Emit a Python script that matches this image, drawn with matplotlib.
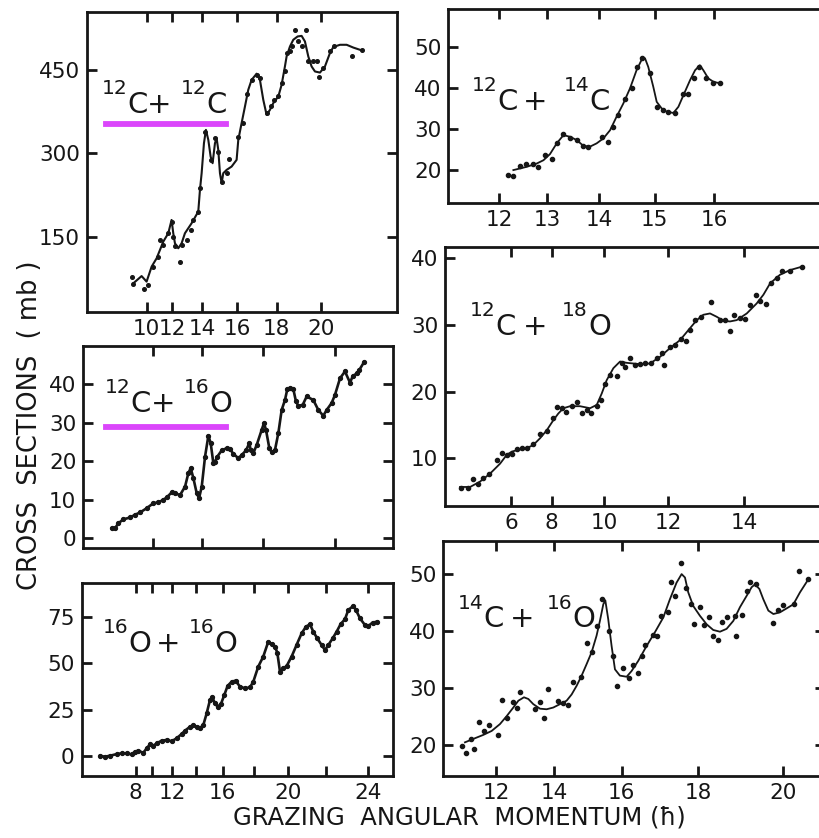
import numpy as np
import matplotlib
matplotlib.use("Agg")
import matplotlib.pyplot as plt
from matplotlib.transforms import offset_copy

# Six excitation functions, cross section vs grazing angular momentum.
# The horizontal axes are linear in l^2 (i.e. in energy), so all x values
# below are l^2; ticks are labelled with l itself.

# --- 12C + 12C (mb) ---
cc12_line_l2 = [77.0, 91.3, 99.9, 108.6, 117.2, 128.7, 137.3, 143.0, 145.9, 148.8, 154.5, 160.3, 166.0,
                177.5, 189.0, 191.9, 194.8, 198.8, 202.2, 206.3, 210.3, 213.7, 217.8, 220.6, 223.5, 226.4,
                229.3, 232.1, 237.9, 246.5, 255.1, 258.0, 263.7, 269.5, 275.2, 281.0, 289.6, 295.3, 301.1,
                306.8, 312.6, 318.3, 327.0, 332.7, 338.4, 341.3, 347.1, 352.8, 360.3, 367.2, 372.9, 378.7,
                384.4, 390.2, 398.8, 407.4, 416.0, 421.8, 433.3, 444.8, 456.3, 470.6]
cc12_line_sig = [66, 79, 69, 96, 111, 141, 156, 180, 156, 138, 129, 138, 156, 174, 195, 234, 264, 318, 342,
                 324, 294, 282, 318, 327, 306, 264, 246, 264, 270, 276, 288, 324, 354, 384, 414, 432, 443,
                 432, 396, 369, 378, 390, 402, 423, 456, 474, 492, 504, 510, 511, 501, 474, 456, 447, 445,
                 456, 480, 491, 495, 495, 490, 485]
cc12_pts_l2 = [74.1, 76.9, 95.3, 102.9, 110.3, 120.1, 123.0, 128.7, 137.3, 143.0, 145.9, 148.8, 157.4, 160.3,
               168.9, 175.8, 180.4, 189.0, 191.9, 200.5, 210.3, 217.8, 223.5, 229.3, 237.9, 242.5, 258.0,
               266.6, 272.4, 281.0, 289.6, 295.3, 306.8, 313.7, 319.5, 327.0, 332.7, 338.4, 342.4, 347.1,
               351.1, 355.7, 360.3, 367.2, 374.7, 378.7, 387.3, 393.1, 397.7, 403.4, 416.0, 423.5, 453.4, 470.6]
cc12_pts_sig = [78, 65, 55, 63, 96, 114, 144, 135, 156, 177, 150, 133, 104, 135, 144, 162, 180, 195, 237, 339,
                288, 327, 303, 249, 264, 289, 330, 354, 406, 432, 441, 435, 372, 385, 396, 403, 426, 447, 480,
                483, 492, 522, 501, 492, 522, 465, 465, 466, 437, 453, 483, 492, 474, 486]

# --- 12C + 14C ---
c14_fit_l2 = [151.3, 158.3, 163.5, 167.0, 170.4, 173.9, 177.4, 180.9, 184.3, 187.8, 191.2, 194.7, 198.2,
              201.7, 205.1, 208.6, 212.1, 215.5, 218.1, 219.9, 221.6, 224.2, 226.0, 228.6, 231.2, 234.7,
              237.3, 239.9, 243.4, 246.0, 248.5, 250.3, 252.9, 255.5, 259.0]
c14_fit_sig = [20.0, 20.8, 21.6, 22.4, 23.9, 26.5, 28.5, 28.1, 27.3, 25.9, 25.7, 26.5, 27.7, 29.7, 33.0, 36.2,
               39.9, 44.3, 46.8, 47.2, 45.1, 40.3, 36.6, 35.0, 34.2, 33.9, 35.4, 38.2, 41.9, 44.3, 45.5, 44.3,
               42.3, 41.5, 41.1]
c14_pts_l2 = [148.7, 151.3, 154.8, 157.9, 161.7, 164.3, 167.8, 171.3, 173.9, 177.0, 180.9, 184.3, 187.4, 190.4,
              197.3, 200.8, 203.4, 206.0, 209.5, 212.9, 215.9, 218.1, 222.5, 226.0, 229.4, 232.0, 235.5, 239.5,
              242.4, 245.4, 248.2, 251.6, 255.2, 259.0]
c14_pts_sig = [18.8, 18.5, 21.0, 21.4, 21.6, 20.8, 23.6, 22.7, 26.6, 28.9, 27.7, 27.3, 25.9, 25.7, 28.1, 26.9,
               30.5, 33.4, 37.2, 39.9, 45.1, 47.2, 43.5, 35.4, 34.6, 34.2, 33.9, 38.4, 38.4, 42.3, 45.1, 42.5,
               41.2, 41.1]

# --- 12C + 16O ---
c16_l2 = [77.1, 82.6, 88.0, 96.1, 107.0, 115.1, 123.3, 134.1, 145.0, 153.1, 161.3, 166.7, 174.8, 180.3, 188.4,
          196.6, 202.0, 205.8, 210.2, 215.6, 219.4, 223.8, 229.2, 234.6, 238.4, 242.7, 245.4, 249.2, 256.3,
          264.4, 269.8, 275.3, 283.4, 288.8, 295.9, 301.3, 303.5, 307.8, 313.3, 321.4, 325.2, 328.5, 333.9,
          337.7, 343.1, 348.6, 354.0, 359.4, 363.2, 367.6, 373.0, 377.3, 381.1, 388.2, 394.7, 405.5, 413.7,
          421.8, 427.3, 435.4, 440.8, 449.0, 457.1, 465.3, 469.6, 476.1, 480.5, 488.1]
c16_sig = [2.6, 2.6, 3.9, 4.9, 5.4, 6.1, 6.7, 7.8, 9.1, 9.3, 10.0, 10.6, 11.9, 11.7, 11.2, 13.4, 16.9, 18.2,
           15.6, 11.7, 10.4, 13.4, 21.2, 26.6, 24.7, 19.5, 19.9, 21.2, 22.8, 23.4, 23.2, 21.9, 20.8, 21.6,
           22.8, 24.7, 22.9, 22.1, 24.2, 28.1, 29.9, 28.1, 23.4, 22.3, 22.9, 27.3, 33.3, 35.9, 38.7, 39.0,
           38.7, 35.5, 34.4, 34.6, 36.8, 35.9, 33.3, 31.8, 33.3, 35.1, 37.2, 41.5, 43.3, 40.4, 42.0, 42.8,
           43.7, 45.7]

# --- 12C + 18O ---
c18_fit_l2 = [1.0, 7.9, 14.7, 21.6, 28.5, 33.0, 36.5, 39.9, 46.8, 51.3, 55.9, 60.5, 65.0, 68.4, 71.9, 76.5,
              83.3, 90.2, 94.8, 98.2, 101.6, 106.2, 110.8, 115.3, 119.9, 124.5, 131.3, 138.2, 145.0, 151.9,
              158.8, 163.4, 167.9, 172.5, 177.1, 181.6, 186.2, 190.8, 197.7, 204.5, 209.1, 213.7, 220.5,
              227.4, 235.4]
c18_fit_sig = [5.7, 5.7, 6.5, 7.7, 9.2, 10.5, 11.0, 11.2, 11.5, 12.0, 13.0, 14.2, 15.7, 16.7, 17.5, 17.8,
               17.8, 17.5, 18.0, 19.7, 21.7, 23.5, 24.5, 24.3, 24.2, 24.1, 24.2, 25.2, 26.5, 27.7, 29.5,
               30.7, 31.5, 31.7, 31.2, 30.6, 30.5, 30.7, 31.7, 33.2, 34.5, 36.2, 37.5, 38.2, 38.7]
c18_pts_l2 = [1.7, 6.7, 10.2, 13.6, 17.0, 21.1, 26.2, 29.6, 33.0, 36.5, 39.9, 43.3, 46.8, 51.3, 55.9, 60.5,
              64.6, 67.8, 70.8, 73.7, 77.6, 81.0, 84.5, 87.9, 90.7, 94.8, 97.5, 100.5, 103.9, 108.5, 111.9,
              114.2, 117.6, 121.1, 124.5, 127.9, 131.8, 135.9, 139.3, 140.9, 145.0, 148.5, 152.4, 156.0,
              158.8, 162.2, 166.1, 173.0, 179.4, 182.8, 186.2, 189.0, 193.1, 196.5, 199.9, 204.0, 206.8,
              210.9, 214.1, 218.2, 221.6, 227.4, 235.4]
c18_pts_sig = [5.6, 5.6, 6.9, 6.2, 7.0, 7.7, 9.8, 10.8, 10.5, 10.7, 11.4, 11.5, 11.5, 12.1, 13.7, 14.1, 16.0,
               17.7, 17.5, 17.0, 17.9, 18.5, 16.8, 17.3, 16.8, 17.8, 18.7, 21.2, 22.5, 22.4, 24.2, 23.7,
               25.0, 24.0, 24.1, 24.2, 24.2, 25.0, 25.8, 24.0, 26.6, 27.0, 27.9, 27.5, 29.2, 30.7, 31.2,
               33.4, 30.7, 30.7, 29.1, 31.4, 31.0, 30.9, 33.0, 34.5, 33.6, 33.1, 36.3, 37.0, 38.0, 38.0, 38.7]

# --- 16O + 16O ---
oo_l2 = [-14.5, -3.5, 7.5, 22.2, 33.2, 44.2, 55.2, 62.5, 69.8, 80.9, 88.2, 95.5, 102.9, 110.2, 121.2, 132.2,
         143.2, 154.2, 165.2, 172.6, 183.6, 190.9, 198.2, 205.6, 212.9, 220.3, 227.6, 232.7, 238.6, 244.4,
         251.8, 259.1, 266.4, 275.3, 284.1, 293.6, 304.6, 315.6, 323.0, 333.9, 344.9, 355.9, 363.3, 370.6,
         375.8, 381.7, 389.0, 396.3, 407.3, 418.3, 429.3, 438.9, 447.7, 455.0, 463.8, 473.4, 480.7, 488.1,
         497.6, 506.4, 515.2, 524.7, 532.1, 543.1, 548.9, 557.7, 568.7, 576.1, 585.6, 595.9]
oo_sig = [0.0, -0.4, 0.1, 1.0, 1.4, 1.4, 0.8, 2.3, 2.8, 1.7, 4.1, 6.2, 5.5, 6.8, 8.2, 8.6, 7.9, 9.5, 11.8,
          13.6, 15.7, 16.5, 15.7, 14.9, 16.6, 22.9, 30.1, 31.6, 28.3, 26.5, 28.0, 32.8, 37.7, 40.0, 40.5,
          37.3, 36.4, 36.9, 40.0, 48.1, 53.5, 61.5, 60.3, 58.9, 55.6, 45.4, 47.2, 48.4, 53.5, 59.8, 66.0,
          69.6, 70.9, 66.9, 63.3, 59.7, 57.0, 59.7, 63.3, 66.9, 71.0, 73.6, 78.6, 80.8, 78.6, 74.1, 70.5,
          70.0, 71.8, 72.3]

# --- 14C + 16O ---
co_fit_l2 = [116.4, 123.8, 132.7, 140.2, 147.6, 153.6, 159.5, 164.0, 169.0, 172.9, 177.3, 183.3, 189.2,
             195.1, 201.1, 207.0, 211.5, 215.9, 220.4, 224.8, 229.3, 233.7, 236.7, 239.7, 241.5, 244.1,
             247.1, 250.1, 254.5, 260.5, 264.9, 270.9, 278.3, 285.7, 293.2, 299.1, 305.0, 309.5, 312.5,
             315.4, 319.9, 325.8, 331.8, 337.7, 343.7, 349.6, 355.6, 361.5, 367.5, 371.9, 374.9, 378.8,
             382.3, 386.8, 391.3, 397.2, 403.2, 409.1, 415.0, 422.5]
co_fit_sig = [20.5, 21.1, 21.8, 22.5, 23.7, 25.1, 26.6, 27.8, 28.4, 28.1, 27.2, 26.4, 26.3, 26.6, 27.2, 27.8,
              28.9, 30.4, 32.2, 34.2, 36.3, 39.2, 41.8, 44.7, 45.4, 42.1, 37.4, 33.3, 32.2, 32.0, 33.0, 34.8,
              37.4, 39.8, 42.4, 45.6, 48.5, 50.0, 49.4, 46.8, 44.4, 42.7, 41.2, 40.2, 39.9, 40.4, 41.8, 44.2,
              46.2, 47.7, 48.2, 47.4, 45.6, 43.6, 43.0, 43.3, 44.0, 44.7, 46.8, 49.1]
co_pts_l2 = [113.4, 117.3, 121.5, 124.4, 129.2, 133.6, 137.5, 146.1, 149.7, 154.1, 158.9, 162.5, 165.4, 178.8,
             183.3, 186.8, 190.7, 199.6, 203.4, 207.9, 213.0, 219.5, 224.8, 229.3, 233.7, 238.2, 245.0,
             248.6, 251.6, 256.9, 262.9, 266.4, 270.9, 273.9, 276.8, 283.6, 287.3, 291.1, 297.6, 299.7,
             303.6, 308.6, 313.4, 317.6, 320.5, 325.8, 329.4, 334.2, 337.2, 342.2, 345.2, 349.6, 357.0,
             357.9, 363.0, 367.5, 370.4, 375.8, 391.0, 395.6, 400.0, 409.5, 414.3, 422.5]
co_pts_sig = [19.9, 18.6, 21.1, 19.4, 24.1, 22.5, 23.5, 21.8, 27.9, 24.7, 27.6, 26.6, 29.4, 26.4, 27.6, 24.7,
              29.8, 27.7, 27.4, 27.1, 31.0, 32.0, 37.9, 36.3, 40.9, 45.6, 40.1, 35.7, 30.4, 33.6, 31.7, 34.0,
              32.7, 35.7, 37.5, 39.3, 39.2, 42.6, 43.4, 48.7, 46.2, 51.9, 47.5, 44.7, 41.2, 44.2, 41.1, 42.4,
              39.2, 38.5, 41.6, 42.5, 42.6, 39.2, 42.8, 47.1, 48.7, 48.2, 41.5, 43.7, 44.6, 44.7, 50.6, 49.1]

INK = "#161616"
MAGENTA = "#db46fb"

plt.rcParams["font.family"] = ["DejaVu Sans"]

fig = plt.figure(figsize=(8.2, 8.38), dpi=100)
renderer = fig.canvas.get_renderer()


def panel(rect, xlim, ylim, l_ticks, l_labels, yticks):
    ax = fig.add_axes(rect)
    ax.set_xlim(*xlim)
    ax.set_ylim(*ylim)
    ax.set_xticks(np.array(l_ticks, dtype=float) ** 2)
    ax.set_xticklabels(l_labels)
    ax.set_yticks(yticks)
    ax.tick_params(direction="in", length=7, width=2, top=True, right=True,
                   labelsize=15.5, pad=5, colors=INK)
    for sp in ax.spines.values():
        sp.set_linewidth(2)
        sp.set_color(INK)
    return ax


def nuclide_label(ax, x, y, a1, s1, a2, s2, gap1, gap2, size=21):
    # "^A1 S1 + ^A2 S2" with the mass numbers raised above the symbols
    pieces = [(a1, True, 0), (s1, False, gap1), ("+", False, gap2), (a2, True, 0), (s2, False, 0)]
    dx = 0.0
    for txt, sup, gap in pieces:
        fs = size * 0.69 if sup else size
        dy = size * 0.64 if sup else 0.0
        tr = offset_copy(ax.transAxes, fig=fig, x=dx, y=dy, units="points")
        t = ax.text(x, y, txt, fontsize=fs, va="baseline", ha="left", color=INK, transform=tr)
        dx += t.get_window_extent(renderer).width * 72.0 / fig.dpi + gap


# top left: 12C + 12C
ax = panel([0.1057, 0.6277, 0.378, 0.358], (-3.4, 531), (14.4, 554),
           [10, 12, 14, 16, 18, 20], ["10", "12", "14", "16", "18", "20"], [150, 300, 450])
ax.plot(cc12_line_l2, cc12_line_sig, color=INK, lw=1.5)
ax.plot(cc12_pts_l2, cc12_pts_sig, "o", color=INK, ms=2.6)
ax.axhline(352, xmin=0.061, xmax=0.449, color=MAGENTA, lw=4.2)
nuclide_label(ax, 0.049, 0.663, "12", "C", "12", "C", -1.0, 7)

# top right: 12C + 14C
ax = panel([0.5467, 0.7578, 0.4655, 0.2315], (117.4, 316.3), (12.0, 59.2),
           [12, 13, 14, 15, 16], ["12", "13", "14", "15", "16"], [20, 30, 40, 50])
ax.plot(c14_fit_l2, c14_fit_sig, color=INK, lw=1.3)
ax.plot(c14_pts_l2, c14_pts_sig, "o", color=INK, ms=3)
nuclide_label(ax, 0.062, 0.479, "12", "C", "14", "C", 3.5, 12)

# middle left: 12C + 16O
ax = panel([0.1016, 0.3457, 0.378, 0.2414], (30.9, 535.8), (-2.6, 49.9),
           [12, 15, 18, 21], ["", "", "", ""], [0, 10, 20, 30, 40])
ax.plot(c16_l2, c16_sig, "o-", color=INK, lw=1.9, ms=2.8)
ax.axhline(29.0, xmin=0.072, xmax=0.46, color=MAGENTA, lw=4.2)
nuclide_label(ax, 0.070, 0.674, "12", "C", "16", "O", 0.0, 6)

# middle right: 12C + 18O
ax = panel([0.5427, 0.3962, 0.4695, 0.3094], (-9.3, 254.8), (2.85, 41.7),
           [6, 8, 10, 12, 14], ["6", "8", "10", "12", "14"], [10, 20, 30, 40])
ax.plot(c18_fit_l2, c18_fit_sig, color=INK, lw=1.3)
ax.plot(c18_pts_l2, c18_pts_sig, "o", color=INK, ms=3)
nuclide_label(ax, 0.065, 0.659, "12", "C", "18", "O", 4.5, 11)

# bottom left: 16O + 16O
ax = panel([0.0996, 0.074, 0.3793, 0.2307], (-54.8, 629.8), (-10.8, 93.3),
           [8, 10, 12, 14, 16, 18, 20, 22, 24], ["8", "", "12", "", "16", "", "20", "", "24"],
           [0, 25, 50, 75])
ax.plot(oo_l2, oo_sig, "o-", color=INK, lw=1.9, ms=2.8)
nuclide_label(ax, 0.068, 0.641, "16", "O", "16", "O", 3.0, 6)

# bottom right: 14C + 16O
ax = panel([0.5406, 0.074, 0.4655, 0.2804], (97.1, 437.3), (14.6, 55.8),
           [12, 14, 16, 18, 20], ["12", "14", "16", "18", "20"], [20, 30, 40, 50])
ax.plot(co_fit_l2, co_fit_sig, color=INK, lw=1.3)
ax.plot(co_pts_l2, co_pts_sig, "o", color=INK, ms=3)
nuclide_label(ax, 0.0385, 0.633, "14", "C", "16", "O", 4.0, 9)

fig.text(0.56, 0.024, "GRAZING  ANGULAR  MOMENTUM (ħ)", ha="center", va="center",
         fontsize=17.5, color=INK)
fig.text(0.037, 0.493, "CROSS  SECTIONS  ( mb )", rotation=90, ha="center", va="center",
         fontsize=18.5, color=INK)

fig.savefig("out.png", dpi=100)
